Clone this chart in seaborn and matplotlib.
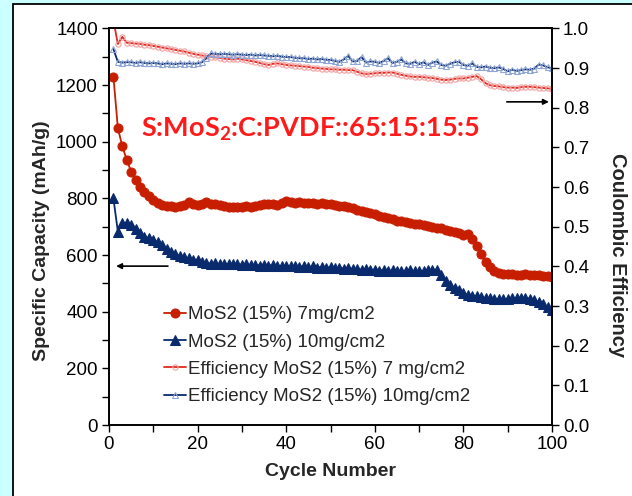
import numpy as np
import pandas as pd
import matplotlib
matplotlib.use("Agg")
import matplotlib.pyplot as plt
from matplotlib.patches import Rectangle
from matplotlib.ticker import MultipleLocator
import seaborn as sns

cycles = list(range(1, 101))

cap_7mg = [1230, 1048, 985, 936, 895, 865, 841, 824, 809, 794,
           783, 776, 774, 772, 771, 774, 778, 786, 780, 778,
           782, 788, 781, 779, 777, 772, 769, 771, 768, 770,
           772, 770, 774, 778, 780, 779, 781, 778, 784, 790,
           786, 784, 786, 783, 785, 784, 782, 784, 780, 779,
           776, 774, 773, 770, 765, 760, 757, 752, 748, 744,
           738, 735, 730, 727, 722, 719, 717, 714, 711, 710,
           707, 704, 700, 697, 694, 690, 686, 682, 677, 670,
           675, 658, 633, 604, 576, 558, 542, 535, 533, 532,
           534, 531, 530, 532, 530, 528, 530, 527, 526, 522]

cap_10mg = [800, 683, 712, 714, 706, 692, 678, 665, 660, 653,
            646, 636, 621, 612, 604, 597, 592, 588, 584, 583,
            575, 572, 570, 572, 568, 570, 567, 570, 568, 566,
            568, 565, 566, 563, 566, 562, 565, 563, 561, 563,
            560, 562, 558, 561, 557, 560, 556, 558, 555, 557,
            553, 556, 552, 555, 550, 552, 548, 551, 547, 549,
            545, 547, 543, 546, 542, 545, 544, 546, 543, 545,
            544, 547, 549, 548, 528, 510, 495, 484, 475, 466,
            460, 457, 455, 452, 449, 447, 445, 444, 444, 445,
            447, 449, 450, 449, 446, 440, 435, 427, 416, 406]

eff_7mg = [1.020, 0.961, 0.979, 0.964, 0.963, 0.962, 0.961, 0.959, 0.958, 0.956,
           0.954, 0.952, 0.950, 0.948, 0.946, 0.944, 0.942, 0.939, 0.936, 0.934,
           0.932, 0.930, 0.929, 0.927, 0.926, 0.924, 0.923, 0.922, 0.924, 0.922,
           0.920, 0.918, 0.916, 0.913, 0.910, 0.908, 0.911, 0.912, 0.910, 0.908,
           0.907, 0.906, 0.905, 0.904, 0.903, 0.901, 0.900, 0.899, 0.898, 0.897,
           0.897, 0.896, 0.896, 0.895, 0.895, 0.891, 0.887, 0.885, 0.886, 0.887,
           0.888, 0.888, 0.889, 0.889, 0.886, 0.883, 0.881, 0.879, 0.878, 0.878,
           0.877, 0.876, 0.875, 0.873, 0.871, 0.870, 0.871, 0.873, 0.874, 0.874,
           0.876, 0.878, 0.880, 0.872, 0.862, 0.857, 0.855, 0.854, 0.852, 0.851,
           0.851, 0.850, 0.852, 0.853, 0.853, 0.852, 0.851, 0.850, 0.849, 0.848]

eff_10mg = [0.948, 0.916, 0.914, 0.915, 0.915, 0.913, 0.915, 0.913, 0.912, 0.913,
            0.912, 0.910, 0.912, 0.911, 0.910, 0.912, 0.911, 0.912, 0.911, 0.912,
            0.915, 0.926, 0.937, 0.936, 0.935, 0.936, 0.935, 0.934, 0.935, 0.934,
            0.933, 0.934, 0.932, 0.933, 0.932, 0.931, 0.930, 0.931, 0.929, 0.928,
            0.928, 0.926, 0.925, 0.925, 0.923, 0.924, 0.922, 0.923, 0.921, 0.921,
            0.918, 0.916, 0.922, 0.931, 0.917, 0.918, 0.928, 0.914, 0.917, 0.916,
            0.913, 0.918, 0.925, 0.913, 0.916, 0.922, 0.912, 0.911, 0.916, 0.910,
            0.915, 0.908, 0.914, 0.917, 0.908, 0.906, 0.911, 0.915, 0.916, 0.908,
            0.906, 0.912, 0.903, 0.902, 0.904, 0.901, 0.900, 0.902, 0.898, 0.892,
            0.896, 0.893, 0.895, 0.897, 0.896, 0.899, 0.909, 0.907, 0.902, 0.900]

labels = ["MoS2 (15%) 7mg/cm2", "MoS2 (15%) 10mg/cm2",
          "Efficiency MoS2 (15%) 7 mg/cm2", "Efficiency MoS2 (15%) 10mg/cm2"]
annotation = r"S:MoS$_\mathbf{2}$:C:PVDF::65:15:15:5"

df = pd.DataFrame({"cycle": cycles, "cap7": cap_7mg, "cap10": cap_10mg,
                   "eff7": eff_7mg, "eff10": eff_10mg})

sns.set_style("ticks")
plt.rcParams["font.family"] = ["Liberation Sans", "DejaVu Sans"]
plt.rcParams["mathtext.fontset"] = "custom"
plt.rcParams["mathtext.rm"] = "Lato:bold"
plt.rcParams["mathtext.bf"] = "Lato:bold"
plt.rcParams["mathtext.it"] = "Lato:bold"

W, H = 632, 496
fig = plt.figure(figsize=(W / 100, H / 100), dpi=100, facecolor="#CCFFFF")
fig.patches.append(Rectangle((12.5 / W, -0.1), 1.2, (H - 4) / H + 0.1,
                             transform=fig.transFigure, facecolor="white",
                             edgecolor="black", linewidth=1.3, zorder=-10))

left, right, top, bottom = 109, 552, 28.5, 425
ax = fig.add_axes([left / W, 1 - bottom / H, (right - left) / W, (bottom - top) / H])
ax.set_facecolor("none")
ax2 = ax.twinx()

red_dark = "#C81E00"
navy = "#0A2A6E"
red_bright = "#E02A1E"

sns.lineplot(data=df, x="cycle", y="cap7", ax=ax, color=red_dark, marker="o",
             markersize=6.5, markeredgecolor=red_dark, linewidth=1.3, label=labels[0])
sns.lineplot(data=df, x="cycle", y="cap10", ax=ax, color=navy, marker="^",
             markersize=6.5, markeredgecolor=navy, linewidth=1.3, label=labels[1])
sns.lineplot(data=df, x="cycle", y="eff7", ax=ax2, color=red_bright, marker="o",
             markersize=3.8, markerfacecolor="none", markeredgecolor="#F2A0A0",
             markeredgewidth=0.8, linewidth=1.3, label=labels[2])
sns.lineplot(data=df, x="cycle", y="eff10", ax=ax2, color=navy, marker="^",
             markersize=3.8, markerfacecolor="none", markeredgecolor="#8FA6D6",
             markeredgewidth=0.8, linewidth=1.3, label=labels[3])

ax.set_xlim(0, 100)
ax.set_ylim(0, 1400)
ax2.set_ylim(0, 1.0)

ax.xaxis.set_major_locator(MultipleLocator(20))
ax.xaxis.set_minor_locator(MultipleLocator(10))
ax.yaxis.set_major_locator(MultipleLocator(200))
ax.yaxis.set_minor_locator(MultipleLocator(100))
ax2.yaxis.set_major_locator(MultipleLocator(0.1))
ax2.set_yticklabels([f"{v:.1f}" for v in ax2.get_yticks()])

for a in (ax, ax2):
    a.tick_params(which="both", direction="out", length=5, width=1, colors="black",
                  labelsize=13.5, pad=3)
    for s in a.spines.values():
        s.set_visible(True)
        s.set_color("black")
        s.set_linewidth(1.2)

ax.set_xlabel("Cycle Number", fontsize=14, fontweight="bold")
ax.set_ylabel("Specific Capacity (mAh/g)", fontsize=14, fontweight="bold")
ax2.set_ylabel("Coulombic Efficiency", fontsize=14.5, fontweight="bold", rotation=-90)
ax.xaxis.set_label_coords(0.5, (425 - 472) / 396.5)
ax.yaxis.set_label_coords((42 - 109) / 443, (425 - 241) / 396.5)
ax2.yaxis.set_label_coords((617 - 109) / 443, (425 - 255) / 396.5)
ax2.yaxis.label.set_va("center")
ax.yaxis.label.set_va("center")
ax.xaxis.label.set_va("center")

if ax.legend_:
    ax.legend_.remove()
h1, l1 = ax.get_legend_handles_labels()
h2, l2 = ax2.get_legend_handles_labels()
if ax2.legend_:
    ax2.legend_.remove()
ax2.legend(h1 + h2, l1 + l2, loc="upper left",
           bbox_to_anchor=(164 / W, 1 - 306 / H), bbox_transform=fig.transFigure,
           frameon=False, fontsize=13.5, handlelength=1.15, handletextpad=0.15,
           labelspacing=0.55, borderpad=0, borderaxespad=0)

ax.text(45.5, 1042, annotation, color="#FF1A1A", fontsize=19.5, ha="center",
        va="center", family="Lato", fontweight="bold")

ax.annotate("", xy=(1.6, 561), xytext=(13.3, 561),
            arrowprops=dict(arrowstyle="-|>", color="black", lw=1.2,
                            mutation_scale=8, shrinkA=0, shrinkB=0))
ax2.annotate("", xy=(99.3, 0.815), xytext=(89.8, 0.815),
             arrowprops=dict(arrowstyle="-|>", color="black", lw=1.2,
                             mutation_scale=8, shrinkA=0, shrinkB=0))

fig.savefig("out.png", dpi=100, facecolor=fig.get_facecolor())
